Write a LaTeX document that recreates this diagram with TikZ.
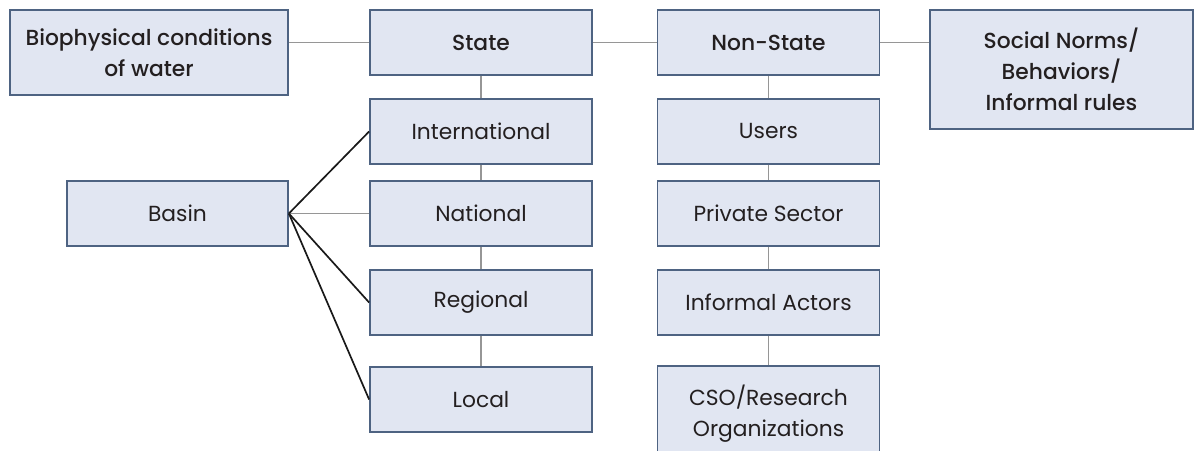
\documentclass[tikz,border=0pt]{standalone}
\usepackage{fontspec}
\setmainfont{Poppins}[BoldFont={Poppins Medium}]
\definecolor{boxfill}{RGB}{225,230,242}
\definecolor{boxline}{RGB}{78,99,130}
\definecolor{linkgray}{RGB}{150,150,150}
\definecolor{textdark}{RGB}{35,31,32}
\begin{document}
\begin{tikzpicture}[x=0.025cm, y=-0.025cm,
  govbox/.style={draw=boxline, line width=1.2pt, fill=boxfill, text=textdark,
    align=center, inner sep=0pt, minimum width=5.55cm, minimum height=1.625cm,
    font=\fontsize{15.5}{22}\selectfont},
  headbox/.style={govbox, font=\fontsize{15.5}{22}\selectfont\bfseries},
  link/.style={draw=linkgray, line width=1.3pt},
  tie/.style={draw=black!90, line width=1.2pt}]
\useasboundingbox (0,0) rectangle (1203,451);
\clip (0,0) rectangle (1203,451);
% top row
\node[headbox, minimum width=6.95cm, minimum height=2.125cm] (bio) at (149,52.5) {Biophysical conditions\\of water};
\node[headbox] (state) at (481,42.5) {State};
\node[headbox] (nonstate) at (768.5,42.5) {Non-State};
\node[headbox, minimum width=6.575cm, minimum height=2.975cm] (social) at (1061.5,69.5) {Social Norms/\\Behaviors/\\Informal rules};
% state levels
\node[govbox] (intl) at (481,131.5) {International};
\node[govbox] (natl) at (481,213.5) {National};
\node[govbox] (regl) at (481,302.5) {Regional};
\node[govbox] (locl) at (481,399.5) {Local};
\node[govbox, minimum width=5.525cm] (basin) at (177.5,213.5) {Basin};
% non-state actors
\node[govbox] (users) at (768.5,131.5) {Users};
\node[govbox] (private) at (768.5,213.5) {Private Sector};
\node[govbox] (informal) at (768.5,302.5) {Informal Actors};
\node[govbox, minimum height=2.4cm] (cso) at (768.5,414) {CSO/Research\\Organizations};
% links
\draw[link] (state.west) -- (state.west -| bio.east);
\draw[link] (state.east) -- (nonstate.west);
\draw[link] (nonstate.east) -- (nonstate.east -| social.west);
\draw[link] (state) -- (intl) -- (natl) -- (regl) -- (locl);
\draw[link] (nonstate) -- (users) -- (private) -- (informal) -- (cso);
\draw[link] (basin.east) -- (natl.west);
\foreach \lvl in {intl,regl,locl}{\draw[tie] (basin.east) -- (\lvl.west);}
\end{tikzpicture}
\end{document}
